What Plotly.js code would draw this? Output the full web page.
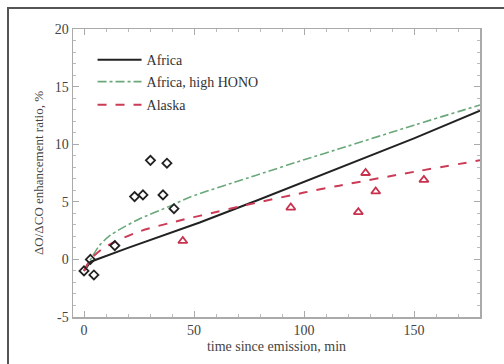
<!DOCTYPE html>
<html>
<head>
<meta charset="utf-8">
<script src="https://cdn.plot.ly/plotly-3.0.1.min.js"></script>
<style>
  html, body { margin: 0; padding: 0; background: #fff; }
  #frame { position: absolute; left: 7px; top: 7px; width: 600px; height: 600px;
           border-left: 2px solid #555; border-top: 2px solid #555; pointer-events: none; z-index: 5; }
  #chart { position: absolute; left: 0; top: 0; width: 504px; height: 364px; }
</style>
</head>
<body>
<div id="chart"></div>
<div id="frame"></div>
<script>
// Observations (diamonds, Africa)
const africaObsT = [0, 2.9, 4.5, 14, 23, 26.8, 30.2, 35.9, 37.7, 40.9];
const africaObsV = [-1.0, 0.0, -1.35, 1.2, 5.45, 5.6, 8.6, 5.6, 8.35, 4.4];
// Observations (triangles, Alaska)
const alaskaObsT = [44.9, 94, 124.7, 128, 132.6, 154.5];
const alaskaObsV = [1.6, 4.5, 4.1, 7.5, 5.9, 6.9];
// Model curves
const africaT = [0, 3, 20, 52.6, 75, 100, 116, 150, 180];
const africaV = [-1.0, -0.2, 1.0, 3.2, 4.85, 6.75, 7.95, 10.5, 12.9];
const honoT = [0, 3, 7, 12, 24, 40, 48, 75, 100, 116, 150, 180];
const honoV = [-1.0, 0.0, 1.2, 2.1, 3.4, 4.7, 5.4, 7.1, 8.65, 9.6, 11.65, 13.4];
const alaskaT = [0, 3, 9, 24, 44, 53, 78, 100, 116, 150, 180];
const alaskaV = [-1.0, 0.0, 1.0, 2.35, 3.4, 3.8, 4.9, 5.8, 6.4, 7.6, 8.6];

const xTicks = [0, 50, 100, 150];
const yTicks = [-5, 0, 5, 10, 15, 20];

const serif = "Liberation Serif, Times New Roman, serif";
const legFont = { family: serif, size: 14, color: '#333' };
function leg(yf) {
  return { x: 0.048, y: yf, xanchor: 'left', yanchor: 'middle', bgcolor: 'rgba(0,0,0,0)',
           font: legFont, itemwidth: 44 };
}

const traces = [
  { x: africaT, y: africaV, mode: 'lines', name: 'Africa', legend: 'legend',
    line: { color: '#222222', width: 2 } },
  { x: honoT, y: honoV, mode: 'lines', name: 'Africa, high HONO', legend: 'legend2',
    line: { shape: 'spline', smoothing: 0.8, color: '#6aa87a', width: 1.6, dash: 'dashdot' } },
  { x: alaskaT, y: alaskaV, mode: 'lines', name: 'Alaska', legend: 'legend3',
    line: { shape: 'spline', smoothing: 0.8, color: '#cc3b55', width: 2, dash: 'dash' } },
  { x: africaObsT, y: africaObsV, mode: 'markers', showlegend: false,
    marker: { symbol: 'diamond-open', size: 7, color: '#222', line: { width: 1.8, color: '#222' } } },
  { x: alaskaObsT, y: alaskaObsV, mode: 'markers', showlegend: false,
    marker: { symbol: 'triangle-up-open', size: 8, color: '#c8324e', line: { width: 1.8, color: '#c8324e' } } }
];

const axisCommon = {
  showgrid: false, zeroline: false, showline: true, mirror: 'ticks',
  linecolor: '#aaaaaa', linewidth: 1.5, ticks: 'inside', ticklen: 6, tickcolor: '#aaaaaa',
  tickfont: { family: serif, size: 14, color: '#444' }
};

const layout = {
  width: 504, height: 364,
  margin: { l: 73, r: 24, t: 29, b: 47 },
  paper_bgcolor: '#ffffff', plot_bgcolor: '#ffffff',
  showlegend: true,
  legend: leg(0.892),
  legend2: leg(0.816),
  legend3: leg(0.736),
  xaxis: Object.assign({}, axisCommon, {
    range: [-5, 180], tickvals: xTicks, ticktext: xTicks.map(String),
    minor: { dtick: 10, ticks: 'inside', ticklen: 3, tickcolor: '#bbbbbb' },
    title: { text: 'time since emission, min', standoff: 4, font: { family: serif, size: 14, color: '#444' } }
  }),
  yaxis: Object.assign({}, axisCommon, {
    range: [-5, 20], tickvals: yTicks, ticktext: yTicks.map(String),
    minor: { dtick: 1, ticks: 'inside', ticklen: 3, tickcolor: '#bbbbbb' },
    title: { text: 'ΔO/ΔCO enhancement ratio, %', standoff: 8, font: { family: serif, size: 13, color: '#444' } }
  })
};

Plotly.newPlot('chart', traces, layout, { displayModeBar: false, staticPlot: true });
</script>
</body>
</html>
